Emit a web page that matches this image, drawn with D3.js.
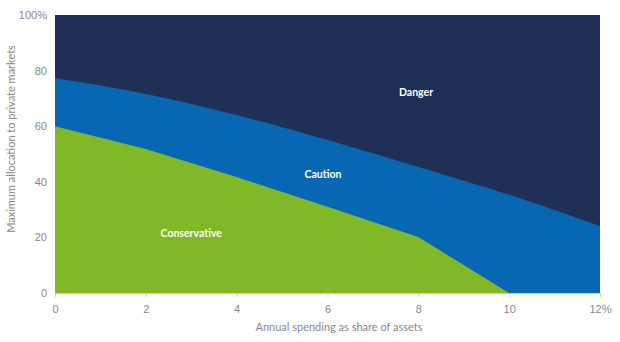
<!DOCTYPE html>
<html><head><meta charset="utf-8">
<script src="https://cdn.jsdelivr.net/npm/d3@7"></script>
<style>body{margin:0;background:#fff;}svg{display:block;font-family:Lato,"Open Sans",sans-serif;}</style>
</head><body><svg id="c" width="620" height="342"></svg>
<script>
const spending = [0, 2, 4, 6, 8, 10, 12];
const conservative = [60, 51.8, 41.7, 31, 20.1, 0, 0];
const caution = [77.3, 71.6, 64, 55, 45.3, 35.3, 24.1];
const danger = [100, 100, 100, 100, 100, 100, 100];
const xTicks = [0, 2, 4, 6, 8, 10, 12];
const yTicks = [0, 20, 40, 60, 80, 100];
const zoneLabels = [
  {name: "Danger", x: 7.95, y: 72},
  {name: "Caution", x: 5.9, y: 42.5},
  {name: "Conservative", x: 3.0, y: 21}
];

const svg = d3.select("#c");
const x = d3.scaleLinear().domain([0, 12]).range([55, 600]);
const y = d3.scaleLinear().domain([0, 100]).range([293, 15]);

const area = (vals) => d3.area().x((d,i)=>x(spending[i])).y0(y(0)).y1((d)=>y(d)).curve(d3.curveMonotoneX)(vals);
svg.append("path").attr("d", area(danger)).attr("fill", "#1f2f56");
svg.append("path").attr("d", area(caution)).attr("fill", "#0867b2");
const consArea = d3.area().x((d,i)=>x(spending[i])).y0(y(0)).y1(d=>y(d)).curve(d3.curveLinear);
svg.append("path").attr("d", consArea(conservative)).attr("fill", "#80b828");

const xa = svg.append("g").attr("transform", "translate(0,293)")
  .call(d3.axisBottom(x).tickValues(xTicks).tickSize(4).tickPadding(8)
    .tickFormat(d => d === 12 ? "12%" : d));
const ya = svg.append("g").attr("transform", "translate(55,0)")
  .call(d3.axisLeft(y).tickValues(yTicks).tickSize(0).tickPadding(8)
    .tickFormat(d => d === 100 ? "100%" : d));
[xa, ya].forEach(a => {
  a.select(".domain").attr("stroke", "#ccc");
  a.selectAll(".tick line").attr("stroke", "#ccc");
  a.selectAll("text").attr("fill", "#888").attr("font-size", 11);
});
ya.select(".domain").remove();

svg.append("text").attr("x", 339).attr("y", 331).attr("text-anchor", "middle")
  .attr("fill", "#888").attr("font-size", 11).text("Annual spending as share of assets");
svg.append("text").attr("transform", "translate(15,139) rotate(-90)").attr("text-anchor", "middle")
  .attr("fill", "#888").attr("font-size", 11).text("Maximum allocation to private markets");

svg.selectAll(".zl").data(zoneLabels).enter().append("text")
  .attr("x", d => x(d.x)).attr("y", d => y(d.y)).attr("text-anchor", "middle")
  .attr("dominant-baseline", "middle")
  .attr("fill", "#fff").attr("font-weight", "bold").attr("font-size", 10.5).text(d => d.name);
</script></body></html>
